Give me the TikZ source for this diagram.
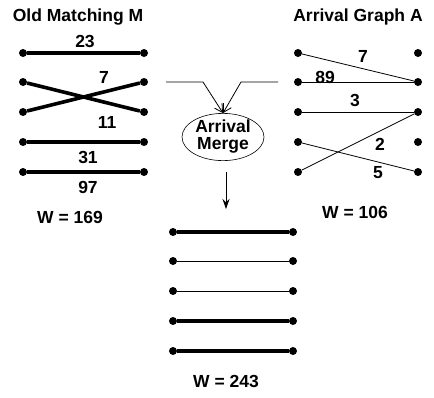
\documentclass[tikz,border=0pt]{standalone}
\usepackage{fontspec}
\setmainfont{Liberation Sans}
\usetikzlibrary{shapes.geometric,arrows.meta}
\tikzset{
    lbl/.style={font=\fontsize{17.5}{17}\selectfont\bfseries, inner sep=0pt},
    vdot/.style={circle, fill, inner sep=0pt, minimum size=8pt},
    heavy/.style={line width=3.6pt},
    light/.style={line width=0.8pt},
}
\begin{document}
\begin{tikzpicture}[x=1pt,y=-1pt,>=Stealth]
\useasboundingbox (0,0) rectangle (434,397);

% vertices
\foreach \r/\y in {1/53,2/82,3/112,4/142,5/172}
{
    \node[vdot] (ml\r) at (23,\y) {};
    \node[vdot] (mr\r) at (144,\y) {};
    \node[vdot] (al\r) at (298,\y) {};
    \node[vdot] (ar\r) at (418,\y) {};
}
\foreach \r/\y in {1/232,2/261,3/291,4/321,5/351}
{
    \node[vdot] (nl\r) at (173,\y) {};
    \node[vdot] (nr\r) at (293,\y) {};
}

% old matching
\node[lbl] (tm) at (78,17) {Old Matching M};
\draw[heavy] (ml1)--(mr1);
\draw[heavy] (ml2)--(mr3);
\draw[heavy] (ml3)--(mr2);
\draw[heavy] (ml4)--(mr4);
\draw[heavy] (ml5)--(mr5);
\foreach \n/\x/\y/\t in {m1/85/41/23,m2/104/77/7,m3/107/122/11,m4/88/157/31,m5/88/187/97}
{
    \node[lbl] (\n) at (\x,\y) {\t};
}
\node[lbl] (wm) at (70,217) {W = 169};

% arrival graph
\node[lbl] (ta) at (358,17) {Arrival Graph A};
\draw[light] (al1)--(ar2);
\draw[light] (al2)--(ar2);
\draw[light] (al3)--(ar3);
\draw[light] (al5)--(ar3);
\draw[light] (al4)--(ar5);
\foreach \n/\x/\y/\t in {a1/363/56/7,a2/325/77/89,a3/355/100/3,a4/380/144/2,a5/378/173/5}
{
    \node[lbl] (\n) at (\x,\y) {\t};
}
\node[lbl] (wa) at (355,212) {W = 106};

% merge
\node[lbl, draw, ellipse, line width=0.6pt, minimum width=82pt, minimum height=44pt, align=center] (mrg) at (223,137) {Arrival\\Merge};
\coordinate (inl) at (166,82);
\coordinate (bl) at (203,82);
\coordinate (inr) at (278,82);
\coordinate (br) at (241,82);
\draw[light, -{Straight Barb[length=8pt,width=9pt]}] (inl)--(bl)--(mrg.north);
\draw[light, -{Straight Barb[length=8pt,width=9pt]}] (inr)--(br)--(mrg.north);
\coordinate (dtop) at (226,172);
\coordinate (dbot) at (226,209);
\draw[light, -{Stealth[length=10pt,width=7pt]}] (dtop)--(dbot);

% new matching
\draw[heavy] (nl1)--(nr1);
\draw[light] (nl2)--(nr2);
\draw[light] (nl3)--(nr3);
\draw[heavy] (nl4)--(nr4);
\draw[heavy] (nl5)--(nr5);
\node[lbl] (wn) at (226,381) {W = 243};

\end{tikzpicture}
\end{document}
